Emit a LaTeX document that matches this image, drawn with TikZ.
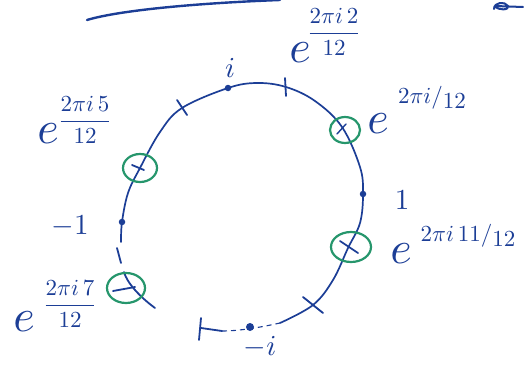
\documentclass[tikz,border=0pt]{standalone}
\usepackage{amsmath}
\begin{document}
\definecolor{ink}{RGB}{28,62,150}
\definecolor{grn}{RGB}{38,150,108}
\begin{tikzpicture}[x=1pt,y=-1pt,
  stroke/.style={draw=ink,line width=1.8pt,line cap=round,line join=round},
  tickmark/.style={draw=ink,line width=1.8pt,line cap=round},
  ring/.style={draw=grn,line width=2.2pt},
  dotmark/.style={circle,fill=ink,inner sep=0pt,minimum size=6.5pt},
  lab/.style={text=ink,inner sep=0pt},
  ebig/.style={lab,scale=4.6},
  expo/.style={lab,scale=2.3},
  plain/.style={lab,scale=2.9}]
\useasboundingbox (0,0) rectangle (524,364);
% fragments at the top edge
\draw[stroke,line width=2.4pt] (87,20) .. controls (120,10) and (200,3) .. (280,0);
\draw[stroke,line width=2pt] (494,9) .. controls (494,2) and (505,1) .. (508,6) .. controls (510,10) and (498,11) .. (495,6) -- (523,7);
% circle, main solid arc
\draw[stroke,line width=1.7pt] plot[smooth,tension=0.6] coordinates {(280,323) (313,305) (333,280) (348,248) (360,223) (363,194) (360,167) (342,127) (315,101) (286,87) (257,83) (228,88) (182,108) (160,132) (140,168) (128,193) (122,222) (121,242)};
% small dash
\draw[stroke] (117,248) -- (121,263);
% lower left segment
\draw[stroke] (124,272) .. controls (127,283) and (140,297) .. (155,308);
% bottom
\draw[stroke] (201,328) -- (222,331);
\draw[draw=ink,line width=1.1pt,dash pattern=on 5pt off 4pt] (222,331) .. controls (240,331) and (262,327) .. (280,323);
% tick marks
\draw[tickmark] (285,78) -- (286,96);
\draw[tickmark] (177,100) -- (187,115);
\draw[tickmark] (201,318) -- (199,340);
\draw[tickmark] (303,297) -- (323,313);
% points 1, i, -1, -i
\node[dotmark] (p0) at (363,194) {};
\node[dotmark] (p3) at (228,88) {};
\node[dotmark] (p6) at (122,222) {};
\node[dotmark,minimum size=8pt] (p9) at (250,327) {};
% green rings with crosses
\draw[ring] (345,130) ellipse [x radius=15, y radius=13];
\draw[stroke,line width=1.4pt] (337,134) -- (346,124);
\draw[ring] (140,168) ellipse [x radius=17, y radius=14];
\draw[stroke] (132,165) -- (144,170);
\draw[ring] (126,288) ellipse [x radius=19, y radius=15];
\draw[stroke] (113,291) -- (135,287);
\draw[ring] (351,247) ellipse [x radius=20, y radius=15];
\draw[stroke] (340,241) -- (358,253);
% labels
\node[plain] (li) at (230,68) {$i$};
\node[ebig] (e2) at (300,53) {$e$};
\node[expo] (x2) at (334,32) {$\displaystyle\frac{2\pi i\,2}{12}$};
\node[ebig] (e1) at (378,124) {$e$};
\node[expo] (x1) at (432,98) {$2\pi i/\lower2pt\hbox{$12$}$};
\node[ebig] (e5) at (48,134) {$e$};
\node[expo] (x5) at (85,120) {$\displaystyle\frac{2\pi i\,5}{12}$};
\node[plain] (lm1) at (70,226) {$-1$};
\node[ebig] (e7) at (24,322) {$e$};
\node[expo] (x7) at (70,304) {$\displaystyle\frac{2\pi i\,7}{12}$};
\node[plain] (l1) at (402,200) {$1$};
\node[ebig] (e11) at (401,254) {$e$};
\node[expo] (x11) at (468,236) {$2\pi i\,11/\lower2pt\hbox{$12$}$};
\node[plain] (lmi) at (260,347) {$-i$};
\end{tikzpicture}
\end{document}
